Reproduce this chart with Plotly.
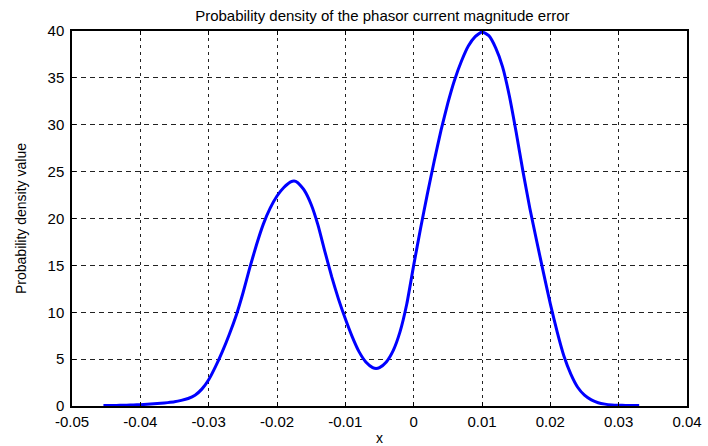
import plotly.graph_objects as go

# Probability density of the phasor current magnitude error (read at 0.001 steps)
x_vals = [
    -0.0454, -0.045, -0.044, -0.043, -0.042, -0.041, -0.040, -0.039, -0.038,
    -0.037, -0.036, -0.035, -0.034, -0.033, -0.032, -0.031, -0.030, -0.029,
    -0.028, -0.027, -0.026, -0.025, -0.024, -0.023, -0.022, -0.021, -0.020,
    -0.019, -0.018, -0.0175, -0.017, -0.016, -0.015, -0.014, -0.013, -0.012,
    -0.011, -0.010, -0.009, -0.008, -0.007, -0.006, -0.0055, -0.005, -0.004,
    -0.003, -0.002, -0.001, 0.000, 0.001, 0.002, 0.003, 0.004, 0.005, 0.006,
    0.007, 0.008, 0.009, 0.010, 0.011, 0.012, 0.013, 0.014, 0.015, 0.016,
    0.017, 0.018, 0.019, 0.020, 0.021, 0.022, 0.023, 0.024, 0.025, 0.026,
    0.027, 0.028, 0.029, 0.030, 0.031, 0.032, 0.033,
]
density = [
    0.05, 0.05, 0.06, 0.07, 0.09, 0.11, 0.14, 0.18, 0.23,
    0.29, 0.36, 0.45, 0.60, 0.80, 1.15, 1.80, 2.80, 4.20,
    5.80, 7.60, 9.60, 12.0, 14.7, 17.2, 19.4, 21.1, 22.4,
    23.3, 23.9, 24.0, 23.85, 23.0, 21.5, 19.3, 16.5, 13.8,
    11.4, 9.3, 7.4, 5.8, 4.7, 4.1, 4.0, 4.1, 4.7,
    5.9, 7.9, 10.9, 15.0, 18.9, 22.6, 26.1, 29.4, 32.3, 34.8,
    36.8, 38.4, 39.4, 39.9, 39.5, 38.2, 36.2, 33.1, 29.2, 25.0,
    21.1, 17.6, 14.2, 10.9, 7.9, 5.3, 3.4, 2.0, 1.15, 0.65,
    0.35, 0.20, 0.12, 0.08, 0.06, 0.05, 0.05,
]

x_ticks = [-0.05, -0.04, -0.03, -0.02, -0.01, 0, 0.01, 0.02, 0.03, 0.04]
x_tick_text = ["-0.05", "-0.04", "-0.03", "-0.02", "-0.01", "0", "0.01", "0.02", "0.03", "0.04"]
y_ticks = [0, 5, 10, 15, 20, 25, 30, 35, 40]

FONT = "Arial, Liberation Sans, sans-serif"

fig = go.Figure()
fig.add_trace(go.Scatter(
    x=x_vals, y=density, mode="lines",
    line=dict(color="#0000ff", width=3, shape="spline", smoothing=0.5),
    showlegend=False, hoverinfo="skip",
))

axis_common = dict(
    showline=True, linecolor="black", linewidth=1.5, mirror="allticks",
    ticks="inside", ticklen=4, tickcolor="black", tickwidth=1,
    showgrid=True, gridcolor="#222222", gridwidth=1,
    zeroline=False, automargin=False,
    tickfont=dict(family=FONT, size=15, color="black"),
)

fig.update_xaxes(
    range=[-0.05, 0.04], tickvals=x_ticks, ticktext=x_tick_text,
    griddash="3px,4px", ticklabelstandoff=1,
    title=dict(text="x", font=dict(family=FONT, size=14, color="black"), standoff=10),
    **axis_common,
)
fig.update_yaxes(
    range=[0, 40], tickvals=y_ticks,
    griddash="5px,4px", ticklabelstandoff=3,
    title=dict(text="Probability density value", font=dict(family=FONT, size=14, color="black"), standoff=18),
    **axis_common,
)

fig.update_layout(
    width=708, height=446,
    margin=dict(l=72, r=21, t=31, b=40),
    paper_bgcolor="white", plot_bgcolor="white",
    title=dict(
        text="Probability density of the phasor current magnitude error",
        font=dict(family=FONT, size=15, color="black"),
        x=0.54, xanchor="center", y=0.965, yanchor="middle",
    ),
)

fig.write_html("out.html")
